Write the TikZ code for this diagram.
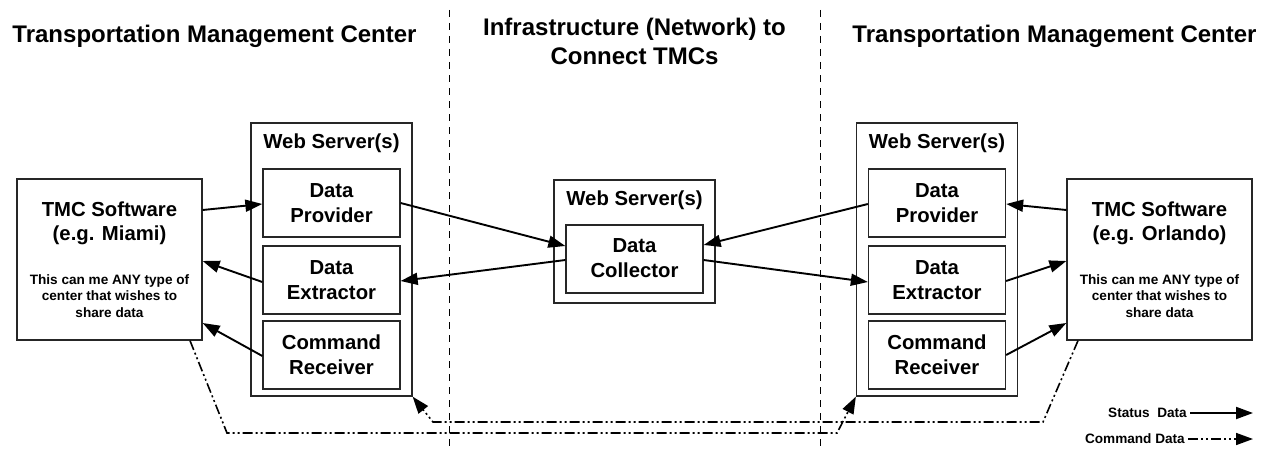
\documentclass[tikz,border=0pt]{standalone}
\usepackage{fontspec}
\setmainfont{Liberation Sans}
\usetikzlibrary{arrows.meta}
\begin{document}
\begin{tikzpicture}[x=1pt,y=-1pt,
  box/.style={draw=black!85,line width=1.3pt,inner sep=0pt,fill=white},
  lbl/.style={font=\bfseries\fontsize{20.3}{24}\selectfont,anchor=base,inner sep=0pt},
  small/.style={font=\bfseries\fontsize{13.6}{16.5}\selectfont,anchor=base,inner sep=0pt},
  title/.style={font=\bfseries\fontsize{24}{28}\selectfont,anchor=base,inner sep=0pt},
  status/.style={line width=1.9pt,-{Triangle[length=17pt,width=12pt]}},
  command/.style={line width=1.6pt,dash pattern=on 10pt off 3pt on 2pt off 3pt on 2pt off 3pt,-{Triangle[length=17pt,width=12pt]}},
  divider/.style={line width=0.9pt,dash pattern=on 7pt off 6pt}]
\useasboundingbox (0,0) rectangle (1265,452);
\fill[white] (0,0) rectangle (1265,452);
% dividers
\coordinate (d1t) at (449,10); \coordinate (d1b) at (449,452);
\coordinate (d2t) at (820,10); \coordinate (d2b) at (820,452);
\draw[divider] (d1t) -- (d1b);
\draw[divider] (d2t) -- (d2b);
% titles
\node[title] (tl) at (214.5,43) {Transportation Management Center};
\node[title] (tc1) at (634.5,36) {Infrastructure (Network) to};
\node[title] (tc2) at (634.5,64) {Connect TMCs};
\node[title] (tr) at (1054.5,43) {Transportation Management Center};
% left TMC
\node[box,minimum width=185pt,minimum height=161pt] (tmcL) at (109.5,259.5) {};
\node[lbl] (tmcL1) at (109.5,216) {TMC Software};
\node[lbl] (tmcL2) at (109.5,240) {(e.g. Miami)};
\node[small] (tmcL3) at (109.5,284) {This can me ANY type of};
\node[small] (tmcL4) at (109.5,300.5) {center that wishes to};
\node[small] (tmcL5) at (109.5,317) {share data};
% left web server
\node[box,minimum width=161pt,minimum height=273pt] (wsL) at (331.5,259.5) {};
\node[lbl] (wsLt) at (331.5,148) {Web Server(s)};
\node[box,minimum width=137pt,minimum height=68pt] (dpL) at (331.5,203) {};
\node[lbl] (dpL1) at (331.5,197) {Data};
\node[lbl] (dpL2) at (331.5,222) {Provider};
\node[box,minimum width=137pt,minimum height=68pt] (deL) at (331.5,280) {};
\node[lbl] (deL1) at (331.5,274) {Data};
\node[lbl] (deL2) at (331.5,299) {Extractor};
\node[box,minimum width=137pt,minimum height=68pt] (crL) at (331.5,355) {};
\node[lbl] (crL1) at (331.5,349) {Command};
\node[lbl] (crL2) at (331.5,374) {Receiver};
% centre web server
\node[box,minimum width=161pt,minimum height=123pt] (wsC) at (634.5,241.5) {};
\node[lbl] (wsCt) at (634.5,205) {Web Server(s)};
\node[box,minimum width=137pt,minimum height=68pt] (dc) at (634.5,259) {};
\node[lbl] (dc1) at (634.5,252) {Data};
\node[lbl] (dc2) at (634.5,277) {Collector};
% right web server
\node[box,minimum width=161pt,minimum height=273pt] (wsR) at (937,259.5) {};
\node[lbl] (wsRt) at (937,148) {Web Server(s)};
\node[box,minimum width=137pt,minimum height=68pt] (dpR) at (937,203) {};
\node[lbl] (dpR1) at (937,197) {Data};
\node[lbl] (dpR2) at (937,222) {Provider};
\node[box,minimum width=137pt,minimum height=68pt] (deR) at (937,280) {};
\node[lbl] (deR1) at (937,274) {Data};
\node[lbl] (deR2) at (937,299) {Extractor};
\node[box,minimum width=137pt,minimum height=68pt] (crR) at (937,355) {};
\node[lbl] (crR1) at (937,349) {Command};
\node[lbl] (crR2) at (937,374) {Receiver};
% right TMC
\node[box,minimum width=185pt,minimum height=161pt] (tmcR) at (1159.5,259.5) {};
\node[lbl] (tmcR1) at (1159.5,216) {TMC Software};
\node[lbl] (tmcR2) at (1159.5,240) {(e.g. Orlando)};
\node[small] (tmcR3) at (1159.5,284) {This can me ANY type of};
\node[small] (tmcR4) at (1159.5,300.5) {center that wishes to};
\node[small] (tmcR5) at (1159.5,317) {share data};
% status arrows left
\draw[status] (tmcL.east |- 0,210) -- (dpL.west |- 0,204);
\draw[status] (deL.west |- 0,282) -- (tmcL.east |- 0,261);
\draw[status] (crL.west |- 0,356) -- (tmcL.east |- 0,323);
\draw[status] (dpL.east |- 0,203) -- (dc.west |- 0,246);
\draw[status] (dc.west |- 0,260) -- (deL.east |- 0,281);
% status arrows right
\draw[status] (tmcR.west |- 0,210) -- (dpR.east |- 0,204);
\draw[status] (dpR.west |- 0,204) -- (dc.east |- 0,245);
\draw[status] (dc.east |- 0,260) -- (deR.west |- 0,282);
\draw[status] (deR.east |- 0,281) -- (tmcR.west |- 0,261);
\draw[status] (crR.east |- 0,355) -- (tmcR.west |- 0,323);
% command lines
\coordinate (ca1) at (227,433);
\coordinate (ca2) at (837,433);
\coordinate (cb1) at (1043,422);
\coordinate (cb2) at (433,422);
\draw[command] (tmcL.south -| 190,0) -- (ca1) -- (ca2) -- (wsR.south west);
\draw[command] (tmcR.south -| 1078,0) -- (cb1) -- (cb2) -- (wsL.south east);
% legend
\node[small,anchor=base east] (lgs) at (1187,417) {Status\ \ Data};
\node[small,anchor=base east] (lgc) at (1185,443) {Command Data};
\coordinate (ls1) at (1190,413); \coordinate (ls2) at (1253,413);
\coordinate (lc1) at (1188,439); \coordinate (lc2) at (1253,439);
\draw[status] (ls1) -- (ls2);
\draw[command] (lc1) -- (lc2);
\end{tikzpicture}
\end{document}
